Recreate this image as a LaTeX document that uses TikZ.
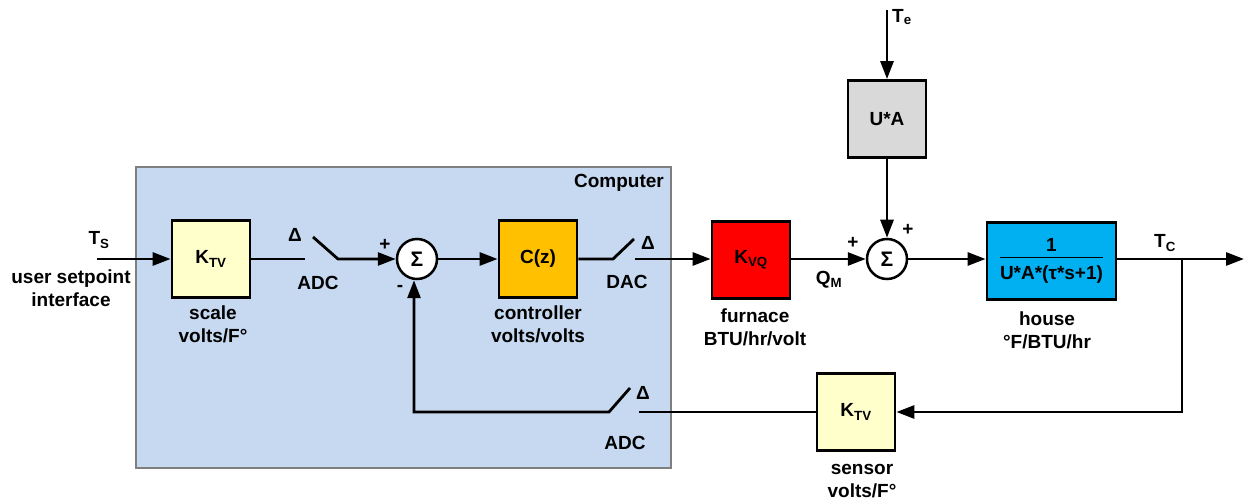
\documentclass[tikz,border=0pt]{standalone}
\usepackage{fontspec}
\setmainfont{Liberation Sans}
\usetikzlibrary{arrows.meta}
\definecolor{compfill}{RGB}{198,217,240}
\definecolor{compdraw}{RGB}{127,127,127}
\definecolor{ktvfill}{RGB}{255,255,204}
\definecolor{czfill}{RGB}{255,192,0}
\definecolor{furnfill}{RGB}{255,0,0}
\definecolor{uafill}{RGB}{217,217,217}
\definecolor{housefill}{RGB}{0,176,240}
\begin{document}
\begin{tikzpicture}[x=1pt,y=-1pt,
 txt/.style={font=\fontsize{19}{23}\selectfont\bfseries, inner sep=0pt, align=center},
 blk/.style={draw, line width=2.8pt, minimum width=78pt, minimum height=77pt, inner sep=0pt, txt},
 sumnode/.style={draw, circle, fill=white, line width=2.5pt, minimum size=40pt, inner sep=0pt, txt},
 wire/.style={line width=2.8pt},
 arr/.style={wire, -{Triangle[length=18pt,width=13pt]}},
]
\useasboundingbox (0,0) rectangle (1244,502);

% computer region
\node[draw=compdraw, fill=compfill, line width=1.5pt, minimum width=535pt, minimum height=301pt, inner sep=0pt] (computer) at (403.5,317.5) {};
\node[txt] (complbl) at (619,183) {Computer};

% blocks
\node[blk, fill=ktvfill] (ktv1) at (211,259) {K\textsubscript{TV}};
\node[sumnode] (sum1) at (417,259) {\fontsize{21}{23}\selectfont Σ};
\node[blk, fill=czfill] (cz) at (538,259) {C(z)};
\node[blk, fill=furnfill] (furn) at (751,260) {K\textsubscript{VQ}};
\node[sumnode] (sum2) at (887,259) {\fontsize{21}{23}\selectfont Σ};
\node[blk, fill=uafill] (ua) at (887,119) {U*A};
\node[blk, fill=housefill, minimum width=129pt] (house) at (1051.5,261)
 {\setlength{\arrayrulewidth}{1.3pt}\begin{tabular}{@{}c@{}}1\\[-2pt]\hline\rule{0pt}{21pt}U*A*(τ*s+1)\end{tabular}};
\node[blk, fill=ktvfill] (ktv2) at (856,412) {K\textsubscript{TV}};

% coordinates
\coordinate (tsin) at (97,259);
\coordinate (adc1a) at (305,259);
\coordinate (adc1tip) at (313,237);
\coordinate (adc1piv) at (338,259);
\coordinate (dacpiv) at (613,259);
\coordinate (dactip) at (634,239);
\coordinate (dacout) at (635,259);
\coordinate (teup) at (887,10);
\coordinate (tcout) at (1244,259);
\coordinate (branch) at (1182,259);
\coordinate (branchdn) at (1182,412);
\coordinate (adc2in) at (639,412);
\coordinate (adc2tip) at (630,388);
\coordinate (adc2piv) at (609,412);
\coordinate (fbcorner) at (414,412);

% connectors
\draw[arr] (tsin) -- (ktv1.west);
\draw[wire] (ktv1.east) -- (adc1a);
\draw[arr] (adc1tip) -- (adc1piv) -- (sum1.west);
\draw[arr] (sum1.east) -- (cz.west);
\draw[wire] (cz.east) -- (dacpiv) -- (dactip);
\draw[arr] (dacout) -- (furn.west |- dacout);
\draw[arr] (furn.east |- sum2) -- (sum2.west);
\draw[arr] (teup) -- (ua.north);
\draw[arr] (ua.south) -- (sum2.north);
\draw[arr] (sum2.east) -- (house.west |- sum2);
\draw[arr] (house.east |- tcout) -- (tcout);
\draw[arr, line join=miter] (branch) -- (branchdn) -- (ktv2.east);
\draw[wire] (ktv2.west) -- (adc2in);
\draw[arr, line join=miter] (adc2tip) -- (adc2piv) -- (fbcorner) -- (sum1.south -| fbcorner);

% labels
\node[txt] (tslbl) at (99,240) {T\textsubscript{S}};
\node[txt] (userlbl) at (71,288) {user setpoint\\interface};
\node[txt] (scalelbl) at (213,324) {scale\\volts/F°};
\node[txt] (d1) at (295,235) {Δ};
\node[txt] (adc1lbl) at (318,283) {ADC};
\node[txt] (p1) at (385,245) {+};
\node[txt] (m1) at (400,288) {-};
\node[txt] (ctrllbl) at (538,324) {controller\\volts/volts};
\node[txt] (d2) at (648,243) {Δ};
\node[txt] (daclbl) at (627,282) {DAC};
\node[txt] (furnlbl) at (755,327) {furnace\\BTU/hr/volt};
\node[txt] (qmlbl) at (829,280) {Q\textsubscript{M}};
\node[txt] (p2) at (853,243) {+};
\node[txt] (p3) at (908,230) {+};
\node[txt, anchor=west] (telbl) at (892,17) {T\textsubscript{e}};
\node[txt] (houselbl) at (1047,330) {house\\°F/BTU/hr};
\node[txt] (tclbl) at (1165,243) {T\textsubscript{C}};
\node[txt] (d3) at (643,393) {Δ};
\node[txt] (adc2lbl) at (625,443) {ADC};
\node[txt] (senslbl) at (862,481) {sensor\\volts/F°};
\end{tikzpicture}
\end{document}
